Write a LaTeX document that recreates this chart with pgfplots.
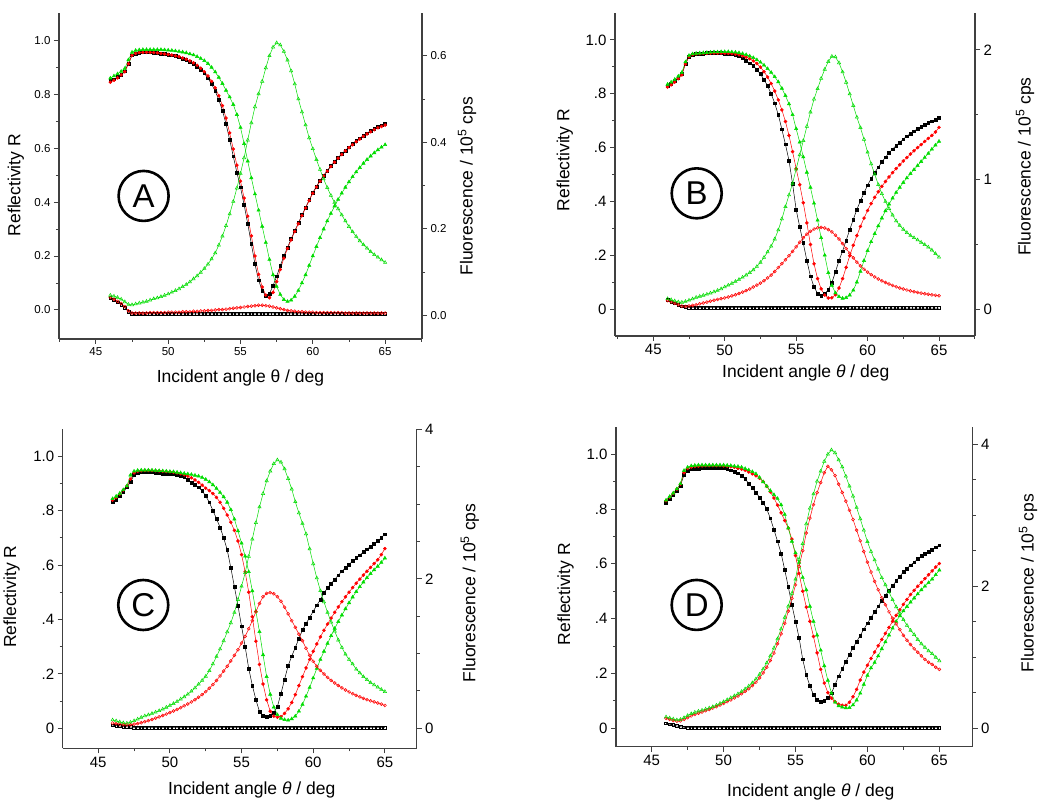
\documentclass[border=0pt]{standalone}
\usepackage{fontspec}
\setmainfont{Liberation Sans}
\usepackage{pgfplots}
\pgfplotsset{compat=1.18}
\usepackage{pgfplotstable}
\definecolor{sgreen}{RGB}{0,220,0}
\definecolor{sred}{RGB}{255,0,0}
\newcommand{\LF}{\fontsize{17.5}{19}\selectfont}

\pgfplotstableread{
x rk rr rg fk fr fg
46 0.850 0.845 0.860 0.040 0.041 0.046
46.25 0.856 0.852 0.868 0.035 0.037 0.044
46.5 0.864 0.861 0.876 0.030 0.032 0.041
46.75 0.874 0.872 0.885 0.025 0.027 0.037
47 0.886 0.884 0.896 0.018 0.020 0.031
47.25 0.915 0.913 0.928 0.008 0.010 0.025
47.5 0.945 0.945 0.956 0.003 0.005 0.024
47.75 0.952 0.952 0.963 0.003 0.005 0.026
48 0.955 0.955 0.965 0.003 0.005 0.028
48.25 0.956 0.956 0.966 0.003 0.005 0.030
48.5 0.956 0.956 0.966 0.003 0.005 0.032
48.75 0.956 0.956 0.966 0.003 0.006 0.035
49 0.955 0.955 0.966 0.003 0.006 0.038
49.25 0.954 0.954 0.966 0.003 0.006 0.040
49.5 0.952 0.952 0.966 0.003 0.006 0.043
49.75 0.950 0.950 0.965 0.003 0.006 0.046
50 0.948 0.948 0.964 0.003 0.007 0.049
50.25 0.945 0.946 0.963 0.003 0.007 0.053
50.5 0.942 0.943 0.961 0.003 0.007 0.057
50.75 0.938 0.940 0.959 0.003 0.007 0.061
51 0.933 0.935 0.957 0.003 0.008 0.066
51.25 0.928 0.930 0.954 0.003 0.008 0.071
51.5 0.921 0.924 0.950 0.003 0.008 0.077
51.75 0.913 0.917 0.946 0.003 0.009 0.084
52 0.903 0.908 0.940 0.003 0.009 0.091
52.25 0.892 0.897 0.933 0.003 0.010 0.099
52.5 0.878 0.884 0.925 0.003 0.010 0.108
52.75 0.860 0.868 0.914 0.003 0.011 0.118
53 0.838 0.848 0.900 0.003 0.011 0.130
53.25 0.812 0.824 0.883 0.003 0.012 0.144
53.5 0.780 0.795 0.863 0.003 0.013 0.162
53.75 0.740 0.758 0.840 0.003 0.013 0.183
54 0.690 0.712 0.815 0.003 0.014 0.207
54.25 0.632 0.657 0.790 0.003 0.015 0.234
54.5 0.570 0.597 0.762 0.003 0.016 0.263
54.75 0.510 0.537 0.725 0.003 0.017 0.294
55 0.455 0.478 0.677 0.003 0.018 0.328
55.25 0.390 0.415 0.617 0.003 0.019 0.364
55.5 0.320 0.348 0.552 0.003 0.020 0.405
55.75 0.245 0.275 0.490 0.003 0.021 0.445
56 0.170 0.200 0.430 0.003 0.022 0.482
56.25 0.110 0.132 0.370 0.003 0.023 0.512
56.5 0.072 0.085 0.310 0.003 0.023 0.541
56.75 0.052 0.055 0.250 0.003 0.022 0.572
57 0.060 0.045 0.187 0.003 0.021 0.600
57.25 0.090 0.065 0.130 0.003 0.019 0.620
57.5 0.125 0.105 0.087 0.003 0.017 0.630
57.75 0.163 0.150 0.057 0.003 0.015 0.625
58 0.200 0.192 0.038 0.003 0.013 0.610
58.25 0.232 0.228 0.031 0.003 0.011 0.590
58.5 0.263 0.260 0.036 0.003 0.010 0.565
58.75 0.293 0.291 0.050 0.003 0.009 0.535
59 0.322 0.320 0.072 0.003 0.008 0.500
59.25 0.352 0.350 0.100 0.003 0.008 0.470
59.5 0.380 0.378 0.130 0.003 0.007 0.440
59.75 0.408 0.406 0.165 0.003 0.007 0.410
60 0.435 0.433 0.200 0.003 0.007 0.385
60.25 0.458 0.456 0.235 0.003 0.006 0.360
60.5 0.480 0.478 0.268 0.003 0.006 0.337
60.75 0.499 0.497 0.300 0.003 0.006 0.315
61 0.517 0.515 0.330 0.003 0.006 0.295
61.25 0.534 0.532 0.358 0.003 0.006 0.277
61.5 0.550 0.548 0.385 0.003 0.006 0.261
61.75 0.565 0.563 0.410 0.003 0.006 0.246
62 0.579 0.577 0.433 0.003 0.006 0.232
62.25 0.592 0.590 0.455 0.003 0.005 0.218
62.5 0.604 0.602 0.475 0.003 0.005 0.205
62.75 0.616 0.613 0.494 0.003 0.005 0.193
63 0.627 0.624 0.512 0.003 0.005 0.182
63.25 0.637 0.634 0.528 0.003 0.005 0.172
63.5 0.647 0.644 0.544 0.003 0.005 0.163
63.75 0.656 0.653 0.558 0.003 0.005 0.155
64 0.664 0.661 0.571 0.003 0.005 0.147
64.25 0.672 0.669 0.583 0.003 0.005 0.140
64.5 0.679 0.676 0.594 0.003 0.005 0.134
64.75 0.685 0.681 0.604 0.003 0.005 0.128
65 0.690 0.686 0.613 0.003 0.005 0.122
}\tabA

\pgfplotstableread{
x rk rr rg fk fr fg
46 0.830 0.825 0.835 0.070 0.065 0.080
46.25 0.838 0.833 0.843 0.057 0.055 0.072
46.5 0.848 0.843 0.853 0.044 0.045 0.062
46.75 0.860 0.856 0.865 0.032 0.033 0.055
47 0.873 0.870 0.879 0.022 0.023 0.052
47.25 0.912 0.910 0.918 0.016 0.020 0.058
47.5 0.938 0.937 0.942 0.013 0.024 0.068
47.75 0.945 0.945 0.948 0.013 0.028 0.078
48 0.948 0.948 0.950 0.013 0.033 0.090
48.25 0.950 0.949 0.951 0.013 0.040 0.098
48.5 0.950 0.950 0.952 0.013 0.047 0.106
48.75 0.951 0.950 0.953 0.013 0.054 0.114
49 0.951 0.951 0.954 0.013 0.061 0.123
49.25 0.951 0.951 0.955 0.013 0.068 0.133
49.5 0.951 0.951 0.955 0.013 0.074 0.144
49.75 0.951 0.951 0.956 0.013 0.080 0.156
50 0.950 0.950 0.956 0.013 0.086 0.170
50.25 0.949 0.950 0.956 0.013 0.093 0.184
50.5 0.947 0.949 0.955 0.013 0.101 0.198
50.75 0.944 0.947 0.954 0.013 0.110 0.213
51 0.939 0.945 0.952 0.013 0.120 0.228
51.25 0.932 0.941 0.949 0.013 0.131 0.245
51.5 0.923 0.936 0.945 0.013 0.142 0.262
51.75 0.913 0.930 0.940 0.013 0.155 0.281
52 0.903 0.922 0.934 0.013 0.170 0.302
52.25 0.890 0.912 0.926 0.013 0.185 0.328
52.5 0.873 0.899 0.917 0.013 0.200 0.360
52.75 0.853 0.882 0.906 0.013 0.218 0.398
53 0.829 0.862 0.893 0.013 0.240 0.440
53.25 0.800 0.838 0.879 0.013 0.262 0.485
53.5 0.765 0.810 0.863 0.013 0.290 0.540
53.75 0.722 0.777 0.844 0.013 0.320 0.610
54 0.668 0.740 0.820 0.013 0.350 0.695
54.25 0.612 0.697 0.793 0.013 0.380 0.790
54.5 0.552 0.645 0.762 0.013 0.412 0.880
54.75 0.465 0.585 0.722 0.013 0.445 0.970
55 0.370 0.522 0.670 0.013 0.480 1.080
55.25 0.305 0.462 0.620 0.013 0.515 1.190
55.5 0.245 0.395 0.565 0.013 0.550 1.300
55.75 0.180 0.320 0.508 0.013 0.578 1.410
56 0.122 0.240 0.452 0.013 0.600 1.520
56.25 0.082 0.168 0.393 0.013 0.617 1.620
56.5 0.058 0.113 0.330 0.013 0.627 1.700
56.75 0.049 0.075 0.265 0.013 0.630 1.780
57 0.056 0.052 0.200 0.013 0.625 1.850
57.25 0.072 0.041 0.135 0.013 0.613 1.910
57.5 0.098 0.042 0.088 0.013 0.595 1.950
57.75 0.138 0.053 0.060 0.013 0.570 1.945
58 0.180 0.078 0.046 0.013 0.540 1.900
58.25 0.215 0.113 0.040 0.013 0.505 1.830
58.5 0.255 0.155 0.042 0.013 0.467 1.750
58.75 0.295 0.198 0.052 0.008 0.430 1.660
59 0.333 0.237 0.070 0.008 0.395 1.570
59.25 0.370 0.273 0.100 0.008 0.362 1.480
59.5 0.402 0.307 0.140 0.008 0.333 1.400
59.75 0.432 0.338 0.180 0.008 0.308 1.310
60 0.460 0.366 0.217 0.008 0.285 1.210
60.25 0.485 0.392 0.250 0.008 0.265 1.120
60.5 0.507 0.415 0.280 0.008 0.248 1.040
60.75 0.527 0.436 0.309 0.008 0.232 0.960
61 0.546 0.456 0.338 0.008 0.218 0.890
61.25 0.564 0.474 0.365 0.008 0.205 0.830
61.5 0.580 0.491 0.390 0.008 0.193 0.775
61.75 0.594 0.507 0.412 0.008 0.182 0.725
62 0.607 0.522 0.433 0.008 0.172 0.680
62.25 0.619 0.536 0.452 0.008 0.163 0.645
62.5 0.631 0.550 0.470 0.008 0.155 0.615
62.75 0.642 0.563 0.487 0.008 0.147 0.590
63 0.652 0.576 0.503 0.008 0.140 0.568
63.25 0.661 0.588 0.518 0.008 0.134 0.550
63.5 0.670 0.600 0.533 0.008 0.128 0.533
63.75 0.678 0.611 0.548 0.008 0.123 0.515
64 0.686 0.623 0.563 0.008 0.118 0.497
64.25 0.692 0.634 0.578 0.008 0.114 0.478
64.5 0.698 0.645 0.594 0.008 0.110 0.455
64.75 0.704 0.658 0.609 0.008 0.106 0.428
65 0.710 0.675 0.623 0.008 0.103 0.400
}\tabB

\pgfplotstableread{
x rk rr rg fk fr fg
46 0.832 0.838 0.843 0.040 0.070 0.110
46.25 0.840 0.848 0.852 0.035 0.062 0.098
46.5 0.852 0.860 0.863 0.030 0.055 0.085
46.75 0.868 0.875 0.876 0.025 0.048 0.072
47 0.885 0.890 0.890 0.020 0.045 0.068
47.25 0.905 0.915 0.930 0.015 0.048 0.080
47.5 0.930 0.938 0.944 0.012 0.055 0.100
47.75 0.938 0.944 0.947 0.012 0.063 0.122
48 0.940 0.946 0.948 0.012 0.075 0.145
48.25 0.941 0.947 0.948 0.012 0.088 0.165
48.5 0.941 0.947 0.948 0.012 0.102 0.180
48.75 0.940 0.947 0.948 0.012 0.118 0.197
49 0.938 0.946 0.947 0.012 0.135 0.215
49.25 0.937 0.945 0.946 0.012 0.152 0.235
49.5 0.936 0.944 0.945 0.012 0.170 0.255
49.75 0.935 0.943 0.944 0.012 0.190 0.280
50 0.935 0.942 0.943 0.012 0.210 0.305
50.25 0.934 0.940 0.942 0.012 0.230 0.330
50.5 0.932 0.938 0.940 0.012 0.252 0.358
50.75 0.928 0.935 0.938 0.012 0.275 0.390
51 0.923 0.931 0.936 0.012 0.300 0.420
51.25 0.913 0.926 0.934 0.012 0.325 0.455
51.5 0.902 0.920 0.932 0.012 0.352 0.495
51.75 0.893 0.912 0.929 0.012 0.382 0.540
52 0.885 0.903 0.926 0.012 0.415 0.590
52.25 0.872 0.893 0.921 0.012 0.450 0.640
52.5 0.853 0.882 0.914 0.012 0.490 0.695
52.75 0.830 0.873 0.905 0.012 0.535 0.770
53 0.800 0.862 0.894 0.012 0.585 0.860
53.25 0.770 0.848 0.881 0.012 0.640 0.960
53.5 0.738 0.830 0.866 0.012 0.700 1.060
53.75 0.700 0.808 0.850 0.012 0.765 1.170
54 0.655 0.783 0.830 0.012 0.830 1.290
54.25 0.590 0.757 0.803 0.012 0.900 1.410
54.5 0.520 0.727 0.768 0.012 0.975 1.550
54.75 0.450 0.688 0.725 0.012 1.050 1.720
55 0.375 0.638 0.680 0.012 1.140 1.900
55.25 0.300 0.575 0.632 0.012 1.230 2.080
55.5 0.220 0.500 0.575 0.012 1.330 2.300
55.75 0.158 0.410 0.505 0.012 1.440 2.530
56 0.105 0.320 0.430 0.012 1.560 2.750
56.25 0.062 0.235 0.355 0.012 1.670 2.960
56.5 0.046 0.163 0.270 0.012 1.760 3.140
56.75 0.042 0.105 0.190 0.012 1.805 3.310
57 0.046 0.063 0.125 0.012 1.815 3.440
57.25 0.058 0.045 0.078 0.012 1.800 3.540
57.5 0.080 0.041 0.050 0.012 1.760 3.590
57.75 0.128 0.043 0.037 0.012 1.700 3.560
58 0.180 0.055 0.032 0.012 1.620 3.470
58.25 0.230 0.072 0.030 0.012 1.530 3.340
58.5 0.265 0.095 0.035 0.012 1.440 3.200
58.75 0.297 0.124 0.045 0.012 1.350 3.030
59 0.330 0.157 0.063 0.012 1.260 2.880
59.25 0.361 0.190 0.088 0.012 1.170 2.740
59.5 0.385 0.222 0.118 0.012 1.070 2.600
59.75 0.407 0.253 0.150 0.012 0.975 2.400
60 0.430 0.283 0.185 0.012 0.895 2.200
60.25 0.452 0.310 0.220 0.012 0.830 2.010
60.5 0.473 0.336 0.253 0.012 0.775 1.840
60.75 0.497 0.360 0.283 0.012 0.725 1.690
61 0.516 0.383 0.312 0.012 0.680 1.550
61.25 0.532 0.405 0.340 0.012 0.640 1.420
61.5 0.547 0.426 0.367 0.012 0.605 1.300
61.75 0.562 0.446 0.392 0.012 0.572 1.180
62 0.577 0.465 0.416 0.012 0.540 1.080
62.25 0.590 0.483 0.439 0.012 0.512 0.990
62.5 0.602 0.500 0.461 0.012 0.486 0.920
62.75 0.614 0.517 0.482 0.012 0.462 0.860
63 0.625 0.533 0.502 0.012 0.440 0.790
63.25 0.636 0.548 0.520 0.012 0.420 0.740
63.5 0.648 0.563 0.537 0.012 0.400 0.690
63.75 0.658 0.577 0.553 0.012 0.383 0.650
64 0.667 0.591 0.568 0.012 0.367 0.610
64.25 0.677 0.605 0.582 0.012 0.352 0.580
64.5 0.688 0.619 0.595 0.012 0.338 0.550
64.75 0.700 0.638 0.609 0.012 0.323 0.520
65 0.713 0.660 0.625 0.012 0.305 0.490
}\tabC

\pgfplotstableread{
x rk rr rg fk fr fg
46 0.823 0.830 0.832 0.070 0.140 0.160
46.25 0.838 0.843 0.845 0.058 0.125 0.145
46.5 0.851 0.857 0.858 0.045 0.110 0.130
46.75 0.866 0.872 0.873 0.033 0.100 0.118
47 0.885 0.890 0.892 0.022 0.105 0.125
47.25 0.925 0.932 0.940 0.015 0.125 0.150
47.5 0.940 0.948 0.952 0.010 0.150 0.180
47.75 0.945 0.953 0.957 0.008 0.175 0.205
48 0.947 0.955 0.959 0.008 0.195 0.225
48.25 0.948 0.956 0.960 0.008 0.212 0.240
48.5 0.950 0.957 0.960 0.008 0.230 0.255
48.75 0.951 0.958 0.960 0.008 0.248 0.270
49 0.951 0.958 0.960 0.008 0.265 0.285
49.25 0.951 0.958 0.960 0.008 0.285 0.305
49.5 0.951 0.958 0.960 0.008 0.305 0.325
49.75 0.951 0.958 0.960 0.008 0.327 0.350
50 0.950 0.957 0.960 0.008 0.350 0.375
50.25 0.946 0.956 0.959 0.008 0.375 0.402
50.5 0.941 0.954 0.958 0.008 0.400 0.430
50.75 0.936 0.952 0.956 0.008 0.428 0.457
51 0.930 0.948 0.955 0.008 0.455 0.485
51.25 0.921 0.945 0.952 0.008 0.487 0.518
51.5 0.909 0.941 0.947 0.008 0.520 0.555
51.75 0.893 0.935 0.942 0.008 0.558 0.595
52 0.877 0.928 0.936 0.008 0.600 0.640
52.25 0.860 0.921 0.928 0.008 0.650 0.695
52.5 0.842 0.912 0.915 0.008 0.710 0.760
52.75 0.823 0.900 0.899 0.008 0.780 0.835
53 0.800 0.883 0.883 0.008 0.860 0.920
53.25 0.766 0.862 0.867 0.008 0.955 1.020
53.5 0.725 0.840 0.852 0.008 1.060 1.130
53.75 0.682 0.814 0.838 0.008 1.190 1.260
54 0.638 0.786 0.815 0.008 1.330 1.400
54.25 0.578 0.758 0.780 0.008 1.480 1.560
54.5 0.516 0.730 0.730 0.008 1.650 1.720
54.75 0.450 0.690 0.682 0.008 1.830 1.900
55 0.390 0.630 0.640 0.008 2.020 2.100
55.25 0.330 0.565 0.605 0.008 2.280 2.380
55.5 0.252 0.500 0.550 0.008 2.500 2.600
55.75 0.195 0.442 0.505 0.008 2.750 2.880
56 0.155 0.390 0.445 0.008 2.960 3.100
56.25 0.122 0.335 0.390 0.008 3.150 3.300
56.5 0.105 0.275 0.340 0.008 3.320 3.480
56.75 0.097 0.215 0.285 0.008 3.460 3.620
57 0.100 0.165 0.228 0.008 3.600 3.760
57.25 0.112 0.130 0.175 0.008 3.690 3.860
57.5 0.128 0.110 0.128 0.008 3.640 3.920
57.75 0.160 0.097 0.095 0.008 3.560 3.880
58 0.190 0.088 0.082 0.008 3.440 3.780
58.25 0.217 0.084 0.077 0.008 3.320 3.680
58.5 0.243 0.084 0.074 0.008 3.200 3.550
58.75 0.269 0.095 0.075 0.008 3.070 3.410
59 0.294 0.115 0.085 0.008 2.940 3.270
59.25 0.316 0.142 0.103 0.008 2.790 3.110
59.5 0.339 0.176 0.128 0.008 2.640 2.950
59.75 0.361 0.205 0.160 0.008 2.490 2.790
60 0.383 0.230 0.193 0.008 2.340 2.630
60.25 0.404 0.255 0.220 0.008 2.200 2.490
60.5 0.424 0.278 0.240 0.008 2.070 2.370
60.75 0.445 0.301 0.264 0.008 1.950 2.240
61 0.465 0.324 0.290 0.008 1.840 2.120
61.25 0.484 0.346 0.315 0.008 1.740 2.020
61.5 0.503 0.368 0.340 0.008 1.640 1.920
61.75 0.520 0.390 0.365 0.008 1.550 1.810
62 0.537 0.412 0.390 0.008 1.470 1.710
62.25 0.554 0.432 0.410 0.008 1.390 1.620
62.5 0.570 0.452 0.428 0.008 1.310 1.530
62.75 0.583 0.470 0.444 0.008 1.240 1.450
63 0.595 0.488 0.460 0.008 1.180 1.380
63.25 0.606 0.503 0.475 0.008 1.120 1.320
63.5 0.617 0.518 0.490 0.008 1.070 1.250
63.75 0.628 0.532 0.505 0.008 1.020 1.190
64 0.638 0.546 0.518 0.008 0.970 1.140
64.25 0.645 0.560 0.531 0.008 0.930 1.090
64.5 0.652 0.574 0.544 0.008 0.900 1.050
64.75 0.660 0.588 0.560 0.008 0.860 1.000
65 0.668 0.601 0.577 0.008 0.830 0.950
}\tabD

\pgfplotsset{
  basepanel/.style={scale only axis, anchor=south west, tick align=outside,
    axis line style={line width=1.1pt, black!75},
    every tick/.style={line width=0.9pt, black!75},
    major tick length=5pt, minor tick length=3pt,
    xtick={45,50,55,60,65}, xticklabels={45,50,55,60,65},
    minor xtick={42.5,47.5,52.5,57.5,62.5,67.5}},
  reflax/.style={basepanel, axis x line*=bottom, axis y line*=left,
    ytick={0,0.2,0.4,0.6,0.8,1}, minor ytick={0.1,0.3,0.5,0.7,0.9}},
  fluax/.style={basepanel, axis x line=none, axis y line*=right},
  pk/.style={black, line width=0.5pt, mark=square*, mark size=1.4pt},
  pr/.style={sred, line width=0.5pt, mark=*, mark size=1.5pt},
  pg/.style={sgreen, line width=0.5pt, mark=triangle*, mark size=1.9pt},
  ok/.style={black, line width=0.5pt, mark=square, mark size=1.4pt, mark options={line width=0.5pt}},
  okr/.style={sred, line width=0.5pt, mark=o, mark size=1.5pt, mark options={line width=0.5pt}},
  okg/.style={sgreen, line width=0.5pt, mark=triangle, mark size=1.9pt, mark options={line width=0.5pt}},
}
\tikzset{letter/.style={draw, circle, line width=2.6pt, minimum size=50pt, inner sep=0pt, font=\fontsize{33}{33}\selectfont}}

\begin{document}
\begin{tikzpicture}
\useasboundingbox (0pt,0pt) rectangle (1050pt,808pt);

% ---------------- Panel A ----------------
\begin{axis}[reflax, at={(59pt,469pt)}, width=363pt, height=326pt,
  xmin=42.45, xmax=67.55, ymin=-0.108, ymax=1.102,
  yticklabels={0.0,0.2,0.4,0.6,0.8,1.0},
  tick label style={font=\fontsize{11.5}{12}\selectfont},
  xlabel={Incident angle θ / deg}, ylabel={Reflectivity R},
  every axis x label/.style={at={(axis description cs:0.5,-0.12)}, anchor=center, font=\LF},
  every axis y label/.style={at={(axis description cs:-0.119,0.472)}, rotate=90, anchor=center, font=\LF}]
\addplot[pk] table[x=x,y=rk]{\tabA};
\addplot[pr] table[x=x,y=rr]{\tabA};
\addplot[pg] table[x=x,y=rg]{\tabA};
\node[letter] at (axis cs:48.3,0.423) {A};
\end{axis}
\begin{axis}[fluax, at={(59pt,469pt)}, width=363pt, height=326pt,
  xmin=42.45, xmax=67.55, ymin=-0.055, ymax=0.699,
  ytick={0,0.2,0.4,0.6}, minor ytick={0.1,0.3,0.5}, yticklabels={0.0,0.2,0.4,0.6},
  tick label style={font=\fontsize{11.5}{12}\selectfont},
  ylabel={Fluorescence / 10\textsuperscript{5} cps},
  every axis y label/.style={at={(axis description cs:1.124,0.469)}, rotate=90, anchor=center, font=\LF}]
\addplot[ok] table[x=x,y=fk]{\tabA};
\addplot[okr] table[x=x,y=fr]{\tabA};
\addplot[okg] table[x=x,y=fg]{\tabA};
\end{axis}

% ---------------- Panel B ----------------
\begin{axis}[reflax, at={(615pt,472pt)}, width=360pt, height=323pt,
  xmin=42.32, xmax=67.52, ymin=-0.1, ymax=1.1,
  yticklabels={0,.2,.4,.6,.8,1.0},
  tick label style={font=\fontsize{15}{16}\selectfont},
  xlabel={Incident angle \textit{θ} / deg}, ylabel={Reflectivity R},
  every axis x label/.style={at={(axis description cs:0.53,-0.115)}, anchor=center, font=\LF},
  every axis y label/.style={at={(axis description cs:-0.139,0.545)}, rotate=90, anchor=center, font=\LF}]
\addplot[pk] table[x=x,y=rk]{\tabB};
\addplot[pr] table[x=x,y=rr]{\tabB};
\addplot[pg] table[x=x,y=rg]{\tabB};
\node[letter] at (axis cs:48.04,0.43) {B};
\end{axis}
\begin{axis}[fluax, at={(615pt,472pt)}, width=360pt, height=323pt,
  xmin=42.32, xmax=67.52, ymin=-0.208, ymax=2.285,
  ytick={0,1,2}, minor ytick={0.5,1.5}, yticklabels={0,1,2},
  tick label style={font=\fontsize{15}{16}\selectfont},
  ylabel={Fluorescence / 10\textsuperscript{5} cps},
  every axis y label/.style={at={(axis description cs:1.139,0.524)}, rotate=90, anchor=center, font=\LF}]
\addplot[ok] table[x=x,y=fk]{\tabB};
\addplot[okr] table[x=x,y=fr]{\tabB};
\addplot[okg] table[x=x,y=fg]{\tabB};
\end{axis}

% ---------------- Panel C ----------------
\begin{axis}[reflax, at={(62.7pt,59.7pt)}, width=354pt, height=319pt,
  xmin=42.52, xmax=67.22, ymin=-0.073, ymax=1.098,
  yticklabels={0,.2,.4,.6,.8,1.0},
  tick label style={font=\fontsize{15}{16}\selectfont},
  xlabel={Incident angle \textit{θ} / deg}, ylabel={Reflectivity R},
  every axis x label/.style={at={(axis description cs:0.534,-0.131)}, anchor=center, font=\LF},
  every axis y label/.style={at={(axis description cs:-0.144,0.475)}, rotate=90, anchor=center, font=\LF}]
\addplot[pk] table[x=x,y=rk]{\tabC};
\addplot[pr] table[x=x,y=rr]{\tabC};
\addplot[pg] table[x=x,y=rg]{\tabC};
\node[letter] at (axis cs:48.14,0.453) {C};
\end{axis}
\begin{axis}[fluax, at={(62.7pt,59.7pt)}, width=354pt, height=319pt,
  xmin=42.52, xmax=67.22, ymin=-0.268, ymax=4.0,
  ytick={0,2,4}, minor ytick={0.5,1,1.5,2.5,3,3.5}, yticklabels={0,2,4},
  tick label style={font=\fontsize{15}{16}\selectfont},
  ylabel={Fluorescence / 10\textsuperscript{5} cps},
  every axis y label/.style={at={(axis description cs:1.15,0.487)}, rotate=90, anchor=center, font=\LF}]
\addplot[ok] table[x=x,y=fk]{\tabC};
\addplot[okr] table[x=x,y=fr]{\tabC};
\addplot[okg] table[x=x,y=fg]{\tabC};
\end{axis}

% ---------------- Panel D ----------------
\begin{axis}[reflax, at={(616pt,61.3pt)}, width=356.7pt, height=320pt,
  xmin=42.52, xmax=67.32, ymin=-0.067, ymax=1.10,
  yticklabels={0,.2,.4,.6,.8,1.0},
  tick label style={font=\fontsize{15}{16}\selectfont},
  xlabel={Incident angle \textit{θ} / deg}, ylabel={Reflectivity R},
  every axis x label/.style={at={(axis description cs:0.546,-0.14)}, anchor=center, font=\LF},
  every axis y label/.style={at={(axis description cs:-0.141,0.477)}, rotate=90, anchor=center, font=\LF}]
\addplot[pk] table[x=x,y=rk]{\tabD};
\addplot[pr] table[x=x,y=rr]{\tabD};
\addplot[pg] table[x=x,y=rg]{\tabD};
\node[letter] at (axis cs:48.13,0.45) {D};
\end{axis}
\begin{axis}[fluax, at={(616pt,61.3pt)}, width=356.7pt, height=320pt,
  xmin=42.52, xmax=67.32, ymin=-0.259, ymax=4.248,
  ytick={0,2,4}, minor ytick={0.5,1,1.5,2.5,3,3.5}, yticklabels={0,2,4},
  tick label style={font=\fontsize{15}{16}\selectfont},
  ylabel={Fluorescence / 10\textsuperscript{5} cps},
  every axis y label/.style={at={(axis description cs:1.155,0.511)}, rotate=90, anchor=center, font=\LF}]
\addplot[ok] table[x=x,y=fk]{\tabD};
\addplot[okr] table[x=x,y=fr]{\tabD};
\addplot[okg] table[x=x,y=fg]{\tabD};
\end{axis}
\end{tikzpicture}
\end{document}
